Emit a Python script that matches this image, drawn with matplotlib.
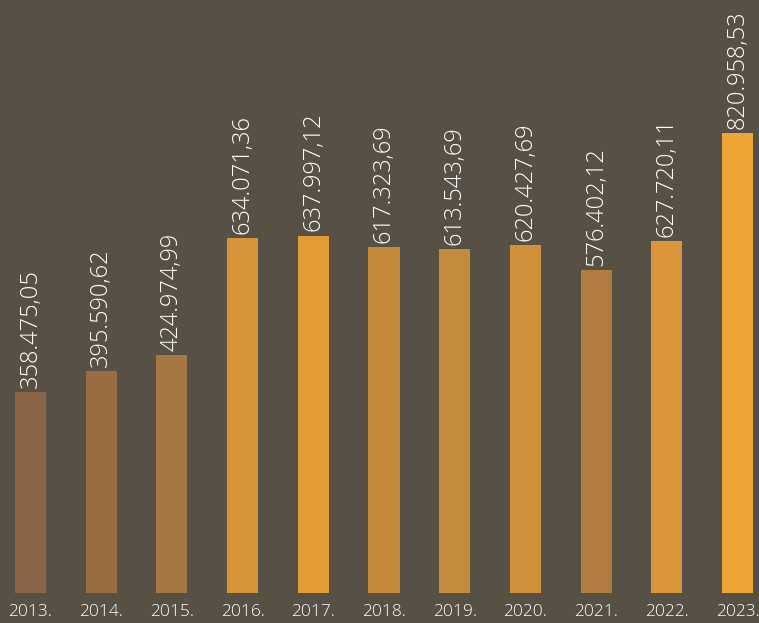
import matplotlib.pyplot as plt
import numpy as np

# godine i iznosi
godine = ['2013.', '2014.', '2015.', '2016.', '2017.', '2018.',
          '2019.', '2020.', '2021.', '2022.', '2023.']
iznosi = [358475.05, 395590.62, 424974.99, 634071.36, 637997.12, 617323.69,
          613543.69, 620427.69, 576402.12, 627720.11, 820958.53]
boje = ['#8b6446', '#9a6c42', '#a57641', '#d69536', '#e39c35', '#c5893c',
        '#c48a3d', '#d0913a', '#b07c40', '#d99537', '#eea535']

pozadina = '#575045'


def formatiraj(v):
    s = '{:,.2f}'.format(v)
    return s.replace(',', 'X').replace('.', ',').replace('X', '.')


fig = plt.figure(figsize=(7.59, 6.23), dpi=100, facecolor=pozadina)
ax = fig.add_axes([0, 30/623, 1, 593/623])
ax.set_facecolor(pozadina)

x = np.arange(len(godine))
ax.bar(x, iznosi, width=0.44, color=boje)

for xi, v in zip(x, iznosi):
    ax.annotate(formatiraj(v), (xi, v), xytext=(0, 3), textcoords='offset points',
                rotation=90, ha='center', va='bottom', color='white',
                fontsize=17, family='Open Sans', fontweight='light')

ax.set_xlim(-0.431, 10.304)
ax.set_ylim(0, 593/460*820958.53)
ax.set_xticks(x)
ax.set_xticklabels(godine, color='white', fontsize=12.5, family='Open Sans',
                   fontweight='light')
ax.tick_params(axis='x', length=0, pad=8)
ax.set_yticks([])
for s in ax.spines.values():
    s.set_visible(False)

plt.savefig('out.png', facecolor=pozadina)
